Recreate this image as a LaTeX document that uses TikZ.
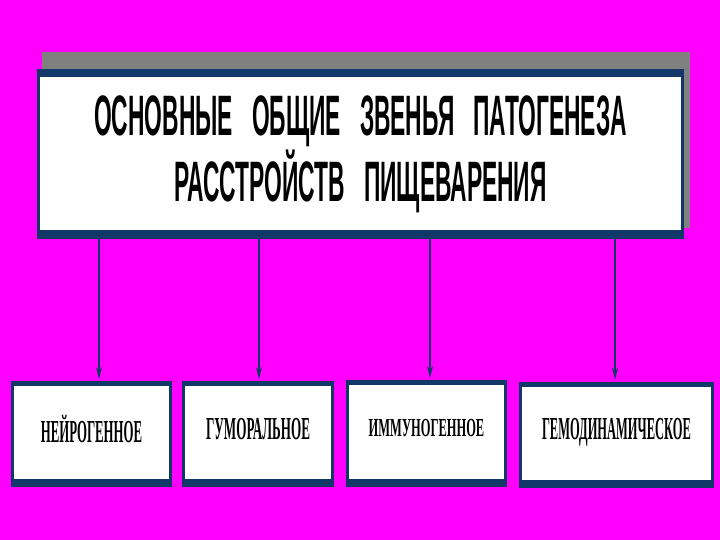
\documentclass[tikz,border=0pt]{standalone}
\usepackage{fontspec}
\setmainfont{Liberation Serif}
\newfontfamily\headfont{Liberation Sans}
\usetikzlibrary{arrows.meta}
\definecolor{slidebg}{RGB}{255,0,255}
\definecolor{framenavy}{RGB}{18,55,105}
\definecolor{shadowgray}{RGB}{128,128,128}

\begin{document}
\begin{tikzpicture}[x=1pt,y=-1pt]

% frame: navy rim, white face set in by #1 at top and #2 at bottom
\tikzset{panel/.style 2 args={
	fill=framenavy, rectangle, inner sep=0pt, outer sep=0pt,
	path picture={\fill[white]
		([xshift=3pt,yshift=-#1]path picture bounding box.north west) rectangle
		([xshift=-3pt,yshift=#2]path picture bounding box.south east);}}}
\tikzstyle{leaf} = [panel={5pt}{8pt}, minimum height=106pt,
	font=\bfseries\fontsize{32}{36}\selectfont];
\tikzstyle{feed} = [draw=framenavy, line width=1.3pt,
	-{Stealth[length=12pt,width=6pt]}];
% narrow label, lifted a little above the middle
\def\tag#1#2{\raisebox{11pt}{\scalebox{#1}[1]{#2}}}

\useasboundingbox[fill=slidebg] (0,0) rectangle (720,540);

% shadow behind the heading
\fill[shadowgray] (42,52) rectangle (690,228);

\node[panel={8pt}{9pt}, minimum width=647pt, minimum height=170pt,
	font=\headfont\bfseries\fontsize{57}{66}\selectfont, align=center] (title) at (360.5,154)
	{\scalebox{.4}[1]{ОСНОВНЫЕ\ \ \ ОБЩИЕ\ \ \ ЗВЕНЬЯ\ \ \ ПАТОГЕНЕЗА}\\
	 \scalebox{.4}[1]{РАССТРОЙСТВ\ \ \ ПИЩЕВАРЕНИЯ}};

\node[leaf, minimum width=161pt] (b1) at (91.5,434) {\tag{.4}{НЕЙРОГЕННОЕ}};
\node[leaf, minimum width=152pt] (b2) at (258,434) {\tag{.41}{ГУМОРАЛЬНОЕ}};
\node[leaf, minimum width=161pt, minimum height=107pt] (b3) at (426.5,433.5)
	{\fontsize{26}{30}\selectfont\tag{.48}{ИММУНОГЕННОЕ}};
\node[leaf, minimum width=195pt] (b4) at (616.5,434.5) {\tag{.39}{ГЕМОДИНАМИЧЕСКОЕ}};

\draw[feed] ([xshift=7.5pt]b1.north |- title.south) -- ([xshift=7.5pt,yshift=2pt]b1.north);
\draw[feed] ([xshift=1pt]b2.north |- title.south) -- ([xshift=1pt,yshift=2pt]b2.north);
\draw[feed] ([xshift=3.5pt]b3.north |- title.south) -- ([xshift=3.5pt,yshift=2pt]b3.north);
\draw[feed] ([xshift=-1.5pt]b4.north |- title.south) -- ([xshift=-1.5pt,yshift=2pt]b4.north);

\end{tikzpicture}
\end{document}
